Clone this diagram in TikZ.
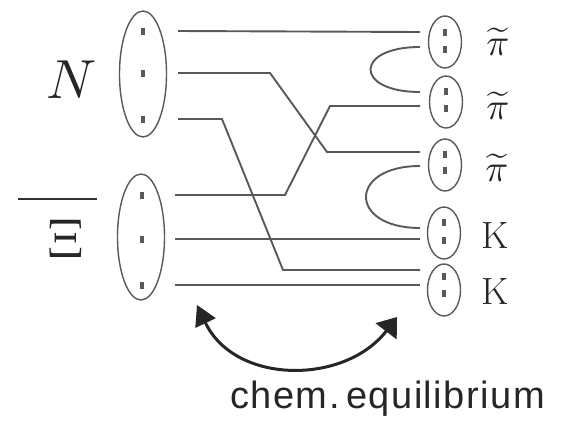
\documentclass[tikz,border=0pt]{standalone}
\usepackage{fontspec}
\usepackage{graphicx}
\usetikzlibrary{shapes.geometric,arrows.meta,calc}
\newfontfamily\handfont[LetterSpace=4]{Liberation Sans}
\tikzset{
  wire/.style={draw=black!65, line width=1.9pt},
  bag/.style={ellipse, draw=black!65, line width=1.4pt, inner sep=0pt},
  bigbag/.style={bag, minimum width=47pt, minimum height=126pt},
  smallbag/.style={bag, minimum width=33pt, minimum height=52pt},
  qk/.style={rectangle, fill=black!65, inner sep=0pt, minimum width=4pt, minimum height=7pt},
  lbl/.style={inner sep=0pt, text=black!85},
  eqarrow/.style={line width=3pt, draw=black!85, {Triangle[length=20pt,width=22pt]}-{Triangle[length=18pt,width=26pt]}}
}
\begin{document}
\begin{tikzpicture}[x=1pt,y=-1pt]
\useasboundingbox (0,0) rectangle (571,426);
% left bags
\node[bigbag] (N) at (143,74) {};
\node[bigbag] (X) at (141,237) {};
\node[qk] (n1) at (143,31) {};
\node[qk] (n2) at (143,73) {};
\node[qk] (n3) at (143,119) {};
\node[qk] (x1) at (142,195) {};
\node[qk] (x2) at (142,239) {};
\node[qk] (x3) at (142,285) {};
% right bags
\node[smallbag] (R1) at (445,42) {};
\node[smallbag] (R2) at (446,102) {};
\node[smallbag] (R3) at (445,165) {};
\node[smallbag] (R4) at (444,233) {};
\node[smallbag] (R5) at (444,290) {};
\node[qk] (r1a) at (445,32) {};
\node[qk] (r1b) at (445,49) {};
\node[qk] (r2a) at (446,91) {};
\node[qk] (r2b) at (446,108) {};
\node[qk] (r3a) at (445,154) {};
\node[qk] (r3b) at (445,170) {};
\node[qk] (r4a) at (444,222) {};
\node[qk] (r4b) at (444,240) {};
\node[qk] (r5a) at (444,276) {};
\node[qk] (r5b) at (444,293) {};
% wires
\draw[wire] ($(n1)+(35,0)$) -- ($(r1a)+(-25,0)$);
\draw[wire] ($(n2)+(35,0)$) -- ++(92,0) -- ($(r3a)+(-118,-2)$) -- ($(r3a)+(-25,-2)$);
\draw[wire] ($(n3)+(35,0)$) -- ++(44,0) -- ($(r5a)+(-161,-6)$) -- ($(r5a)+(-24,-6)$);
\draw[wire] ($(x1)+(33,0)$) -- ++(110,0) -- ($(r2b)+(-116,-2)$) -- ($(r2b)+(-26,-2)$);
\draw[wire] ($(x2)+(33,0)$) -- ($(r4b)+(-24,-1)$);
\draw[wire] ($(x3)+(33,0)$) -- ($(r5b)+(-24,-8)$);
% loops
\draw[wire] ($(r1b)+(-25,-2)$) .. controls +(-66,0) and +(-66,0) .. ($(r2a)+(-26,1)$);
\draw[wire] ($(r3b)+(-25,-4)$) .. controls +(-72,0) and +(-72,0) .. ($(r4a)+(-24,6)$);
% labels
\node[lbl] (Nlab) at (72,80) {\scalebox{5.5}{$N$}};
\node[lbl] (Xlab) at (66,239) {\scalebox{5.5}{$\Xi$}};
\coordinate (bl) at (18,199);
\coordinate (br) at (97,199);
\draw[line width=2.5pt, draw=black!80] (bl) -- (br);
\node[lbl] (p1) at (498,42) {\scalebox{3.8}{$\widetilde{\pi}$}};
\node[lbl] (p2) at (498,106) {\scalebox{3.8}{$\widetilde{\pi}$}};
\node[lbl] (p3) at (497,168) {\scalebox{3.8}{$\widetilde{\pi}$}};
\node[lbl, font=\fontsize{38}{38}\selectfont] (k1) at (495,236) {K};
\node[lbl, font=\fontsize{38}{38}\selectfont] (k2) at (495,292) {K};
% equilibrium arrow
\coordinate (a1) at (197,305);
\coordinate (a2) at (397,317);
\draw[eqarrow] (a1) .. controls (235,385) and (345,385) .. (a2);
\node[lbl, anchor=base west, font=\handfont\fontsize{38}{38}\selectfont] (eq) at (230,408) {chem.\,equilibrium};
\end{tikzpicture}
\end{document}
